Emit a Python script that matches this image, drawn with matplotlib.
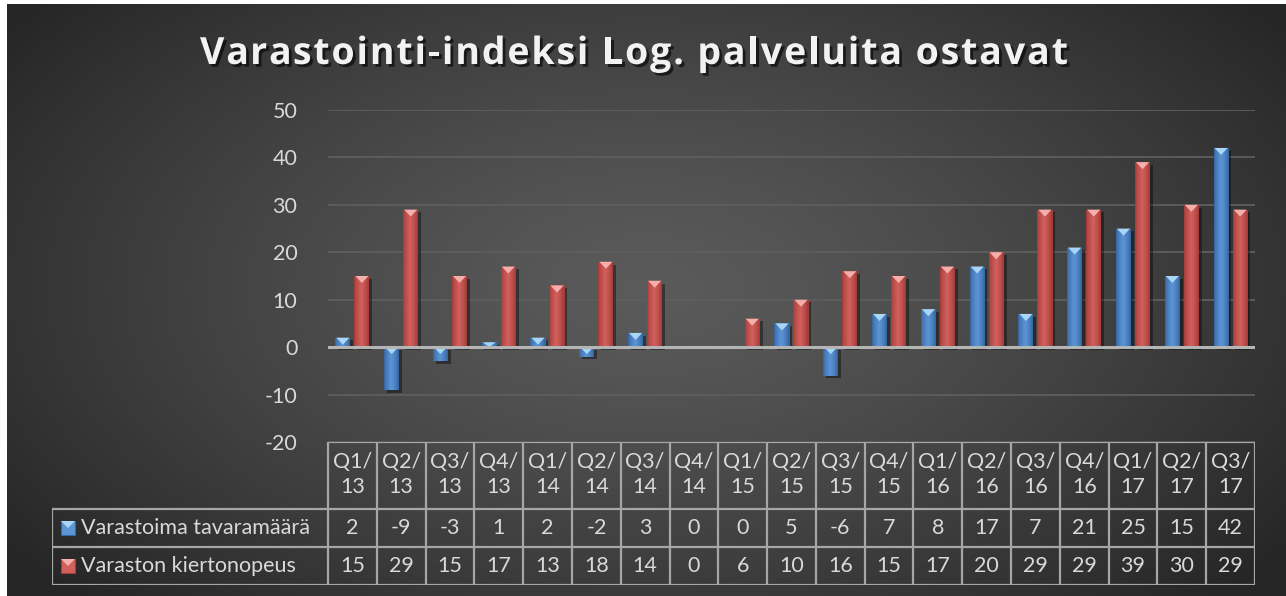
import numpy as np
import matplotlib
matplotlib.use('Agg')
import matplotlib.pyplot as plt
import matplotlib.patheffects as pe
from matplotlib.patches import Rectangle, Polygon

# data
quarters = ['Q1/13', 'Q2/13', 'Q3/13', 'Q4/13', 'Q1/14', 'Q2/14', 'Q3/14', 'Q4/14',
            'Q1/15', 'Q2/15', 'Q3/15', 'Q4/15', 'Q1/16', 'Q2/16', 'Q3/16', 'Q4/16',
            'Q1/17', 'Q2/17', 'Q3/17']
tavaramaara = [2, -9, -3, 1, 2, -2, 3, 0, 0, 5, -6, 7, 8, 17, 7, 21, 25, 15, 42]
kiertonopeus = [15, 29, 15, 17, 13, 18, 14, 0, 6, 10, 16, 15, 17, 20, 29, 29, 39, 30, 29]
series_names = ['Varastoima tavaramäärä', 'Varaston kiertonopeus']
yticks = [-20, -10, 0, 10, 20, 30, 40, 50]
title = 'Varastointi-indeksi Log. palveluita ostavat'

W, H = 1286, 596
FONT = ['Lato', 'DejaVu Sans']
FS = 15.5
TXT = '#d9d9d9'
LINE = '#a6a6a6'

# colours: edge, centre, bevel triangle
blue = ('#3868a4', '#5b95d6', '#a9d6f7')
red = ('#a53d3a', '#d2605c', '#f6aeaa')

fig = plt.figure(figsize=(W / 100, H / 100), dpi=100)
fig.patch.set_facecolor('white')

# background with radial gradient
bg = fig.add_axes([7 / W, 0, 1 - 7 / W, 1 - 4 / H])
yy, xx = np.mgrid[0:1:300j, 0:1:600j]
r = np.sqrt(((xx - 0.5) / 0.62) ** 2 + ((yy - 0.52) / 0.75) ** 2)
r = np.clip(r, 0, 1)
shade = 0.355 - 0.205 * r ** 1.3
bg.imshow(np.dstack([shade] * 3), extent=[0, 1, 0, 1], aspect='auto', origin='lower')
bg.set_axis_off()

# main plot
x0, x1 = 328, 1255
ytop, ybot = 110, 442
ax = fig.add_axes([x0 / W, 1 - ybot / H, (x1 - x0) / W, (ybot - ytop) / H])
ax.set_facecolor('none')
for s in ax.spines.values():
    s.set_visible(False)
ax.set_xticks([])
ax.set_yticks(yticks)
ax.set_yticklabels([str(t) for t in yticks], color=TXT, fontsize=FS, family=FONT)
ax.tick_params(axis='y', length=0, pad=22)
for t in yticks:
    if t == 0:
        continue
    ax.axhline(t, color='#5e5e5e', lw=1.3, zorder=0)

bw = 0.31
off = 0.195
unit_px = (x1 - x0) / len(quarters)
tri_h = 7 / ((ybot - ytop) / 70)


def draw_bar(x, v, cols):
    if v == 0:
        return
    lo, hi = min(0, v), max(0, v)
    rect = Rectangle((x - bw / 2, lo), bw, hi - lo, facecolor=cols[0], edgecolor='none', zorder=3,
                     path_effects=[pe.SimplePatchShadow(offset=(2, -2), shadow_rgbFace='black', alpha=0.4),
                                   pe.Normal()])
    ax.add_patch(rect)
    grad = np.linspace(0, 1, 40)
    g = 1 - np.abs(grad - 0.45) * 2
    c0 = np.array(matplotlib.colors.to_rgb(cols[0]))
    c1 = np.array(matplotlib.colors.to_rgb(cols[1]))
    img = c0[None, None, :] + (c1 - c0)[None, None, :] * np.clip(g, 0, 1)[None, :, None] ** 0.7
    im = ax.imshow(img, extent=[x - bw / 2 + 0.02, x + bw / 2 - 0.02, lo, hi], aspect='auto', zorder=4,
                   interpolation='bilinear')
    im.set_clip_path(rect)
    th = min(tri_h, (hi - lo) * 0.9)
    tri = Polygon([(x - bw / 2 + 0.02, hi), (x + bw / 2 - 0.02, hi), (x, hi - th)],
                  closed=True, facecolor=cols[2], edgecolor='none', zorder=5)
    ax.add_patch(tri)


for i in range(len(quarters)):
    draw_bar(i - off, tavaramaara[i], blue)
    draw_bar(i + off, kiertonopeus[i], red)

ax.axhline(0, color='#b5b5b5', lw=2.2, zorder=6)
ax.set_xlim(-0.5, len(quarters) - 0.5)
ax.set_ylim(-20, 50)

# data table below
tl = 52
t_top, t_bot = 442, 585
tab = fig.add_axes([tl / W, 1 - t_bot / H, (x1 - tl) / W, (t_bot - t_top) / H])
tab.set_axis_off()
left = -0.5 - (x0 - tl) / unit_px
n = len(quarters)
tab.set_xlim(left, n - 0.5)
tab.set_ylim(0, t_bot - t_top)
r1, r2, top = 38, 76, t_bot - t_top
lk = dict(color=LINE, lw=1.6, solid_capstyle='projecting')
tab.plot([-0.5, n - 0.5], [top, top], **lk)
for yv in (0, r1, r2):
    tab.plot([left, n - 0.5], [yv, yv], **lk)
tab.plot([left, left], [0, r2], **lk)
for i in range(n + 1):
    tab.plot([i - 0.5, i - 0.5], [0, top], **lk)

for i, q in enumerate(quarters):
    a, b = q.split('/')
    tab.text(i, (top + r2) / 2 + 1, a + '/\n' + b, ha='center', va='center', color=TXT,
             fontsize=FS, family=FONT, linespacing=1.3)
    tab.text(i, (r1 + r2) / 2, str(tavaramaara[i]), ha='center', va='center', color=TXT,
             fontsize=FS, family=FONT)
    tab.text(i, r1 / 2, str(kiertonopeus[i]), ha='center', va='center', color=TXT,
             fontsize=FS, family=FONT)

sq = 14
for yc, name, cols in [((r1 + r2) / 2, series_names[0], blue), (r1 / 2, series_names[1], red)]:
    mx = left + 9 / unit_px
    tab.add_patch(Rectangle((mx, yc - sq / 2), sq / unit_px, sq, facecolor=cols[1], edgecolor=cols[0], lw=0.8))
    tab.add_patch(Polygon([(mx, yc + sq / 2), (mx + sq / unit_px, yc + sq / 2), (mx + sq / 2 / unit_px, yc)],
                          facecolor=cols[2], edgecolor='none'))
    tab.text(left + 29 / unit_px, yc, name, ha='left', va='center', color=TXT, fontsize=FS, family=FONT)

# title with letter spacing, drawn one character at a time
tkw = dict(color='#f2f2f2', fontsize=27, fontweight='bold', family=['Open Sans', 'DejaVu Sans'],
           va='baseline', ha='left',
           path_effects=[pe.SimplePatchShadow(offset=(2, -2), shadow_rgbFace='black', alpha=0.6), pe.Normal()])
renderer = fig.canvas.get_renderer()


def text_w(s):
    t = fig.text(0, 0, s.replace(' ', '\u00a0') + '|', **tkw)
    w1 = t.get_window_extent(renderer).width
    t.remove()
    t = fig.text(0, 0, '|', **tkw)
    w2 = t.get_window_extent(renderer).width
    t.remove()
    return w1 - w2


tx0, tx1 = 200, 1068
full = text_w(title)
spacing = (tx1 - tx0 - full) / (len(title) - 1)
for k, ch in enumerate(title):
    if ch == ' ':
        continue
    px = tx0 + text_w(title[:k]) + k * spacing
    fig.text(px / W, 1 - 64 / H, ch, **tkw)

fig.savefig('out.png', dpi=100, facecolor=fig.get_facecolor())
